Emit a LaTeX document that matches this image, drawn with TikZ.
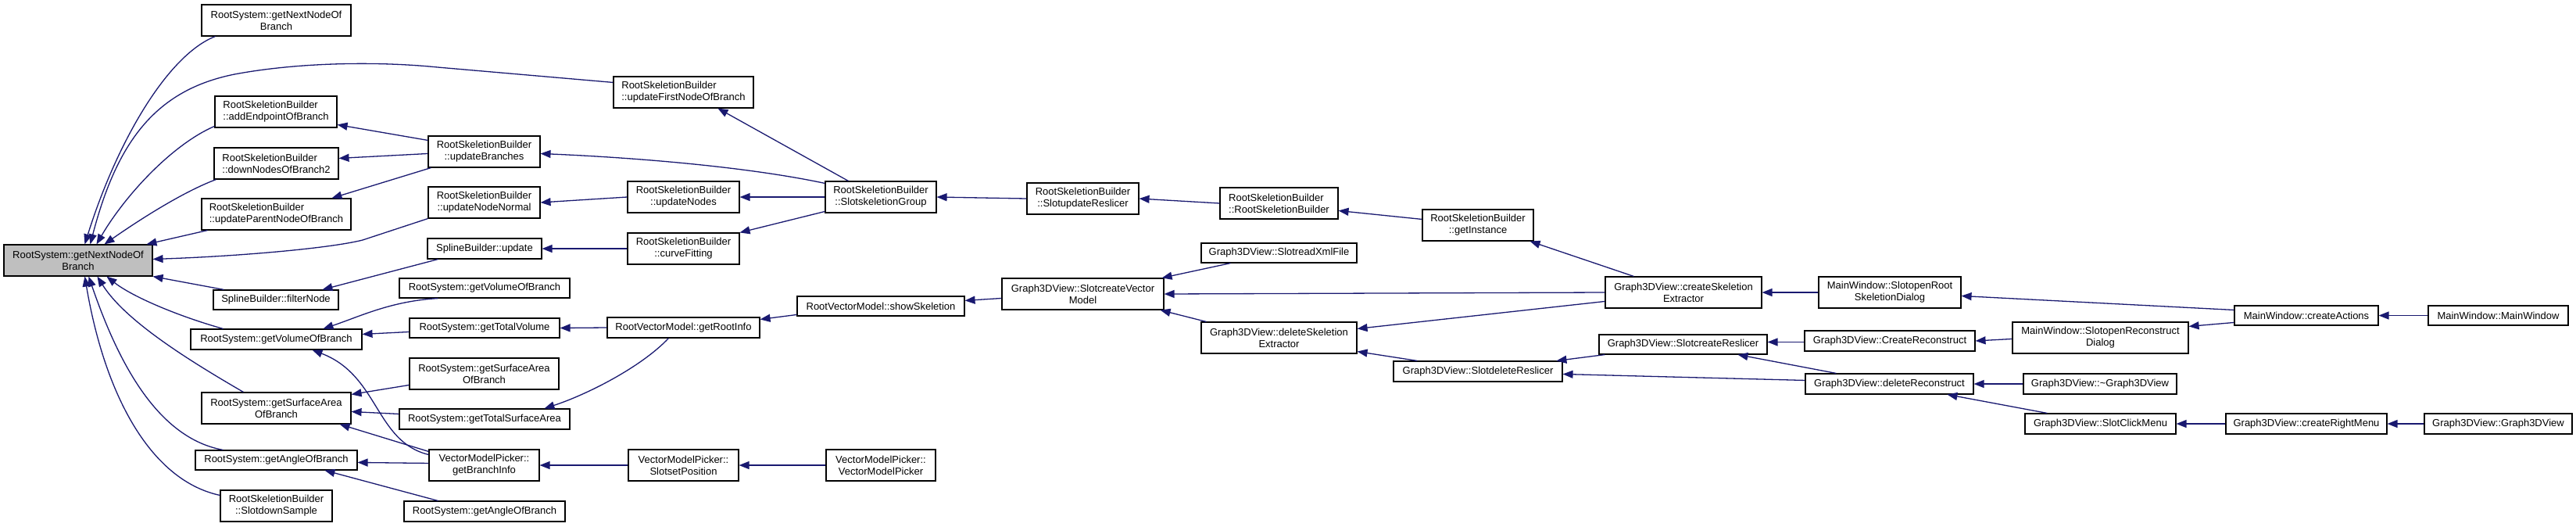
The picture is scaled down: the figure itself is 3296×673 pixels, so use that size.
\documentclass[tikz,border=0pt]{standalone}
\usepackage{fontspec}
\setmainfont{Liberation Sans}
\usetikzlibrary{arrows.meta}
\definecolor{edgec}{HTML}{191970}
\definecolor{nodegray}{HTML}{BFBFBF}
\newcommand{\dbox}[7][]{\node[box,#1,minimum width={(#4-#2)*1pt},minimum height={(#5-#3)*1pt}] (#6) at ({(#2+#4)/2},{(#3+#5)/2}) {#7};}
\begin{document}
\begin{tikzpicture}[x=1pt,y=-1pt,
  box/.style={draw=black, line width=1.1pt, fill=white, inner sep=0pt, align=center,
    font=\fontsize{13}{15}\selectfont},
  lft/.style={align=left},
  edge/.style={draw=edgec, line width=1.3pt, {Triangle[length=13pt,width=10pt]}-}]
\useasboundingbox (0,0) rectangle (3296,673);
% column 0
\dbox[fill=nodegray]{5}{313}{195}{353}{M}{RootSystem::getNextNodeOf\\Branch}
% column 1
\dbox{258}{6}{449}{46}{A1}{RootSystem::getNextNodeOf\\Branch}
\dbox[lft]{275}{123}{431}{163}{addEP}{RootSkeletionBuilder\\::addEndpointOfBranch}
\dbox[lft]{274}{189}{433}{229}{downN}{RootSkeletionBuilder\\::downNodesOfBranch2}
\dbox[lft]{258}{254}{449}{294}{updPar}{RootSkeletionBuilder\\::updateParentNodeOfBranch}
\dbox{273}{371}{433}{396}{filterNode}{SplineBuilder::filterNode}
\dbox{244}{421}{463}{447}{getVol}{RootSystem::getVolumeOfBranch}
\dbox{258}{502}{449}{542}{getSA}{RootSystem::getSurfaceArea\\OfBranch}
\dbox{250}{576}{457}{601}{getAng}{RootSystem::getAngleOfBranch}
\dbox{282}{627}{425}{667}{downSample}{RootSkeletionBuilder\\::SlotdownSample}
% column 2
\dbox{548}{174}{691}{214}{updBranches}{RootSkeletionBuilder\\::updateBranches}
\dbox{548}{239}{691}{279}{updNormal}{RootSkeletionBuilder\\::updateNodeNormal}
\dbox{547}{305}{693}{331}{splUpdate}{SplineBuilder::update}
\dbox{511}{356}{729}{381}{getVol2}{RootSystem::getVolumeOfBranch}
\dbox{524}{407}{716}{432}{totVol}{RootSystem::getTotalVolume}
\dbox{524}{458}{715}{498}{getSA2}{RootSystem::getSurfaceArea\\OfBranch}
\dbox{511}{523}{729}{549}{totSA}{RootSystem::getTotalSurfaceArea}
\dbox{549}{575}{690}{615}{branchInfo}{VectorModelPicker::\\getBranchInfo}
\dbox{517}{641}{723}{667}{getAng2}{RootSystem::getAngleOfBranch}
% column 3
\dbox[lft]{785}{98}{964}{138}{updFirst}{RootSkeletionBuilder\\::updateFirstNodeOfBranch}
\dbox{803}{232}{946}{272}{updNodes}{RootSkeletionBuilder\\::updateNodes}
\dbox{803}{298}{946}{338}{curveFit}{RootSkeletionBuilder\\::curveFitting}
\dbox{777}{406}{972}{432}{rootInfo}{RootVectorModel::getRootInfo}
\dbox{804}{575}{945}{615}{setPos}{VectorModelPicker::\\SlotsetPosition}
% column 4
\dbox{1056}{232}{1198}{272}{skelGroup}{RootSkeletionBuilder\\::SlotskeletionGroup}
\dbox{1020}{379}{1234}{404}{showSkel}{RootVectorModel::showSkeletion}
\dbox{1057}{575}{1197}{615}{vmpCtor}{VectorModelPicker::\\VectorModelPicker}
% column 5
\dbox{1314}{234}{1457}{274}{updReslicer}{RootSkeletionBuilder\\::SlotupdateReslicer}
\dbox{1282}{356}{1489}{396}{createVM}{Graph3DView::SlotcreateVector\\Model}
% column 6
\dbox[lft]{1561}{240}{1712}{280}{rsbCtor}{RootSkeletionBuilder\\::RootSkeletionBuilder}
\dbox{1537}{311}{1736}{336}{readXml}{Graph3DView::SlotreadXmlFile}
\dbox{1537}{412}{1736}{452}{delSkel}{Graph3DView::deleteSkeletion\\Extractor}
% column 7
\dbox{1820}{268}{1962}{308}{getInst}{RootSkeletionBuilder\\::getInstance}
\dbox{1783}{462}{1999}{488}{delRes}{Graph3DView::SlotdeleteReslicer}
% column 8
\dbox{2054}{354}{2254}{394}{createSkel}{Graph3DView::createSkeletion\\Extractor}
\dbox{2046}{428}{2261}{453}{createRes}{Graph3DView::SlotcreateReslicer}
% column 9
\dbox{2327}{354}{2509}{394}{openRoot}{MainWindow::SlotopenRoot\\SkeletionDialog}
\dbox{2309}{423}{2527}{449}{createRecon}{Graph3DView::CreateReconstruct}
\dbox{2310}{478}{2525}{504}{delRecon}{Graph3DView::deleteReconstruct}
% column 10
\dbox{2575}{412}{2800}{452}{openRecon}{MainWindow::SlotopenReconstruct\\Dialog}
\dbox{2589}{478}{2785}{504}{dtor}{Graph3DView::\textasciitilde Graph3DView}
\dbox{2591}{529}{2784}{555}{clickMenu}{Graph3DView::SlotClickMenu}
% column 11
\dbox{2859}{391}{3043}{416}{createActions}{MainWindow::createActions}
\dbox{2848}{529}{3054}{555}{rightMenu}{Graph3DView::createRightMenu}
% column 12
\dbox{3107}{391}{3286}{416}{mwCtor}{MainWindow::MainWindow}
\dbox{3102}{529}{3291}{555}{g3dCtor}{Graph3DView::Graph3DView}

% edges into M
\draw[edge] ([xshift=104pt]M.north west) .. controls (150,180) and (215,70) .. ([xshift=18pt]A1.south west);
\draw[edge] ([xshift=111pt]M.north west) .. controls (150,180) and (200,115) .. (300,95) .. controls (380,80) and (480,78) .. (560,86) -- ([yshift=-8pt]updFirst.north west);
\draw[edge] ([xshift=119pt]M.north west) .. controls (160,250) and (220,185) .. ([yshift=-39pt]addEP.north west);
\draw[edge] ([xshift=129pt]M.north west) .. controls (180,280) and (235,245) .. ([xshift=3pt]downN.south west);
\draw[edge] ([xshift=183pt]M.north west) -- ([xshift=8pt]updPar.south west);
\draw[edge] ([yshift=-19pt]M.north east) .. controls (300,328) and (420,318) .. (464,307) -- (updNormal.south west);
\draw[edge] (M.south east) -- ([xshift=14pt]filterNode.north west);
\draw[edge] ([xshift=132pt]M.south west) .. controls (170,380) and (230,405) .. ([xshift=42pt]getVol.north west);
\draw[edge] ([xshift=120pt]M.south west) .. controls (160,410) and (240,460) .. ([xshift=54pt]getSA.north west);
\draw[edge] ([xshift=109pt]M.south west) .. controls (150,460) and (200,560) .. ([xshift=36pt]getAng.north west);
\draw[edge] ([xshift=104pt]M.south west) .. controls (135,510) and (195,615) .. ([yshift=-7pt]downSample.north west);
% middle left
\draw[edge] ([yshift=-37pt]addEP.north east) -- ([yshift=-6pt]updBranches.north west);
\draw[edge] ([yshift=-14pt]downN.north east) -- ([yshift=-23pt]updBranches.north west);
\draw[edge] ([xshift=167pt]updPar.north west) -- ([xshift=4pt]updBranches.south west);
\draw[edge] ([xshift=134pt]updFirst.south west) -- ([xshift=30pt]skelGroup.north west);
\draw[edge] ([yshift=-23pt]updBranches.north east) .. controls (800,201) and (950,212) .. ([yshift=-3pt]skelGroup.north west);
\draw[edge] (updNodes.east) -- (skelGroup.west);
\draw[edge] (curveFit.north east) -- ([yshift=-39pt]skelGroup.north west);
\draw[edge] (updNormal.east) -- (updNodes.west);
\draw[edge] (splUpdate.east) -- (curveFit.west);
\draw[edge] ([xshift=140pt]filterNode.north west) -- ([xshift=14pt]splUpdate.south west);
\draw[edge] (skelGroup.east) -- (updReslicer.west);
\draw[edge] (updReslicer.east) -- (rsbCtor.west);
\draw[edge] ([yshift=-30pt]rsbCtor.north east) -- ([yshift=-13pt]getInst.north west);
\draw[edge] ([xshift=-5pt]getInst.south east) -- ([xshift=37pt]createSkel.north west);
\draw[edge] (createVM.east) -- (createSkel.west);
\draw[edge] ([yshift=-9pt]delSkel.north east) -- ([yshift=-32pt]createSkel.north west);
\draw[edge] ([yshift=-6pt]showSkel.north east) -- ([yshift=-26pt]createVM.north west);
\draw[edge] ([yshift=-3pt]rootInfo.north east) -- ([yshift=-24pt]showSkel.north west);
\draw[edge] ([xshift=-3pt]createVM.north east) -- ([xshift=38pt]readXml.south west);
\draw[edge] ([xshift=-5pt]createVM.south east) -- ([xshift=7pt]delSkel.north west);
\draw[edge] (totVol.east) -- (rootInfo.west);
\draw[edge] ([xshift=186pt]totSA.north west) .. controls (750,505) and (820,470) .. ([xshift=79pt]rootInfo.south west);
\draw[edge] ([yshift=-7pt]getVol.north east) -- ([yshift=-18pt]totVol.north west);
\draw[edge] ([xshift=170pt]getVol.north west) .. controls (460,405) and (500,385) .. ([xshift=50pt]getVol2.south west);
\draw[edge] ([yshift=-3pt]getSA.north east) -- ([yshift=-35pt]getSA2.north west);
\draw[edge] ([yshift=-25pt]getSA.north east) -- ([yshift=-7pt]totSA.north west);
\draw[edge] ([xshift=-15pt]getSA.south east) -- ([yshift=-3pt]branchInfo.north west);
\draw[edge] ([xshift=156pt]getVol.south west) .. controls (485,480) and (480,565) .. ([yshift=-7pt]branchInfo.north west);
\draw[edge] ([yshift=-16pt]getAng.north east) -- ([yshift=-18pt]branchInfo.north west);
\draw[edge] ([xshift=166pt]getAng.south west) -- ([xshift=44pt]getAng2.north west);
\draw[edge] (branchInfo.east) -- (setPos.west);
\draw[edge] (setPos.east) -- (vmpCtor.west);
% right part
\draw[edge] (createSkel.east) -- (openRoot.west);
\draw[edge] ([yshift=-25pt]openRoot.north east) -- ([yshift=-6pt]createActions.north west);
\draw[edge] ([yshift=-6pt]openRecon.north east) -- ([yshift=-22pt]createActions.north west);
\draw[edge] (createActions.east) -- (mwCtor.west);
\draw[edge] (createRecon.east) -- ([yshift=-22pt]openRecon.north west);
\draw[edge] ([yshift=-10pt]createRes.north east) -- ([yshift=-15pt]createRecon.north west);
\draw[edge] ([xshift=178pt]createRes.south west) -- ([xshift=40pt]delRecon.north west);
\draw[edge] ([yshift=-17pt]delRes.north east) -- ([yshift=-9pt]delRecon.north west);
\draw[edge] ([xshift=209pt]delRes.north west) -- ([xshift=8pt]createRes.south west);
\draw[edge] ([yshift=3pt]delSkel.south east) -- ([xshift=31pt]delRes.north west);
\draw[edge] (delRecon.east) -- (dtor.west);
\draw[edge] ([xshift=182pt]delRecon.south west) -- ([xshift=29pt]clickMenu.north west);
\draw[edge] (clickMenu.east) -- (rightMenu.west);
\draw[edge] (rightMenu.east) -- (g3dCtor.west);
\end{tikzpicture}
\end{document}
